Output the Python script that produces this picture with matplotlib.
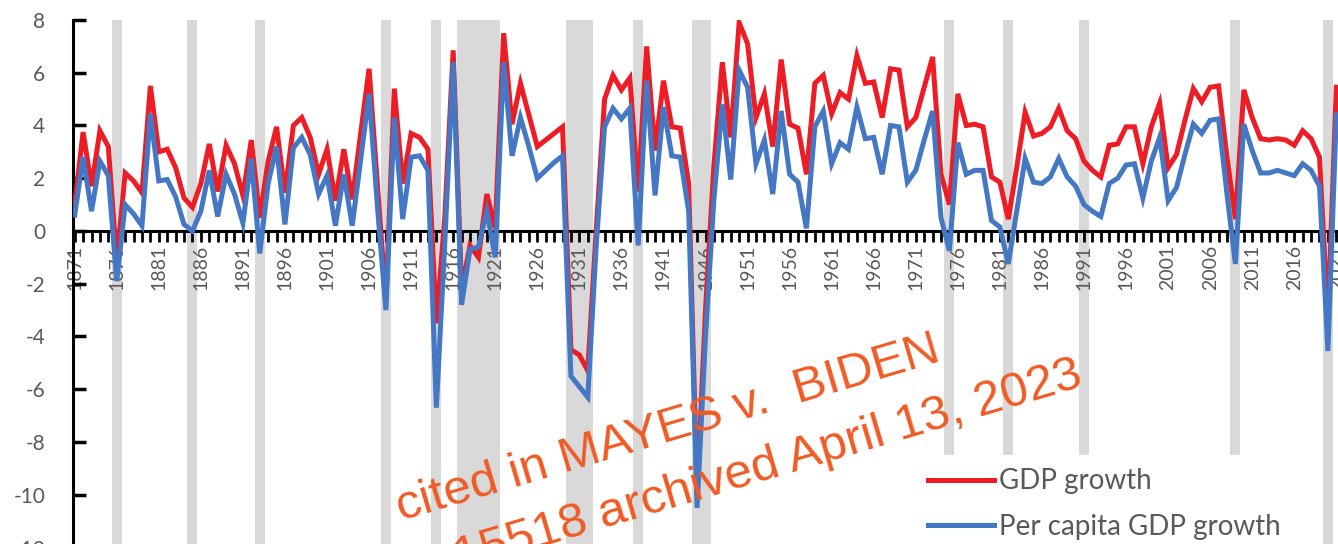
import numpy as np
import matplotlib
matplotlib.use("Agg")
import matplotlib.pyplot as plt

# Annual growth rates, %
years = np.arange(1871, 2022)
gdp_growth = [
    1.0, 3.75, 1.7, 3.8, 3.2, -1.2, 2.2, 1.9, 1.45, 5.5,          # 1871-1880
    3.0, 3.1, 2.4, 1.25, 0.9, 1.8, 3.3, 1.5, 3.25, 2.55,          # 1881-1890
    1.35, 3.45, 0.5, 2.65, 3.95, 1.45, 4.0, 4.3, 3.55, 2.15,      # 1891-1900
    3.1, 1.15, 3.1, 1.2, 3.7, 6.15, 1.7, -2.7, 5.4, 1.8,          # 1901-1910
    3.7, 3.55, 3.1, -3.5, 0.5, 6.85, -2.2, -0.55, -1.0, 1.4,      # 1911-1920
    0.1, 7.5, 4.05, 5.6, 4.4, 3.2, 3.45, 3.7, 3.95, -4.5,         # 1921-1930
    -4.7, -5.3, 0.0, 5.0, 5.9, 5.35, 5.8, 1.5, 7.0, 3.05,         # 1931-1940
    5.7, 3.95, 3.9, 1.8, -10.0, -3.0, 2.5, 6.4, 3.55, 7.9,        # 1941-1950
    7.1, 4.3, 5.2, 3.2, 6.5, 4.05, 3.9, 2.15, 5.6, 5.9,           # 1951-1960
    4.45, 5.25, 5.0, 6.65, 5.6, 5.65, 4.3, 6.15, 6.1, 3.95,       # 1961-1970
    4.3, 5.45, 6.6, 2.15, 1.0, 5.2, 4.0, 4.05, 3.95, 2.05,        # 1971-1980
    1.85, 0.45, 2.4, 4.5, 3.6, 3.7, 3.95, 4.65, 3.8, 3.5,         # 1981-1990
    2.65, 2.3, 2.05, 3.25, 3.3, 3.95, 3.95, 2.55, 3.95, 4.85,     # 1991-2000
    2.4, 2.9, 4.2, 5.4, 4.9, 5.45, 5.5, 2.8, 0.45, 5.35,          # 2001-2010
    4.3, 3.5, 3.45, 3.5, 3.45, 3.25, 3.8, 3.5, 2.8, -3.4,         # 2011-2020
    5.45,                                                         # 2021
]
per_capita_growth = [
    0.6, 2.8, 0.75, 2.65, 2.1, -1.9, 1.0, 0.65, 0.2, 4.45,
    1.9, 1.95, 1.3, 0.25, 0.0, 0.75, 2.3, 0.55, 2.15, 1.4,
    0.3, 2.75, -0.85, 1.8, 3.2, 0.25, 3.15, 3.55, 2.9, 1.4,
    2.1, 0.2, 2.15, 0.2, 2.7, 5.2, 0.9, -3.0, 4.3, 0.45,
    2.8, 2.85, 2.3, -6.7, -0.5, 6.4, -2.8, -0.7, -0.6, 0.75,
    -1.0, 6.4, 2.85, 4.3, 3.2, 2.0, 2.3, 2.6, 2.85, -5.5,
    -5.9, -6.3, -0.6, 3.95, 4.65, 4.25, 4.65, -0.55, 5.7, 1.35,
    4.7, 2.85, 2.8, 0.75, -10.5, -4.0, 1.2, 4.8, 1.95, 6.1,
    5.45, 2.55, 3.45, 1.4, 4.55, 2.15, 1.85, 0.1, 3.95, 4.55,
    2.55, 3.35, 3.1, 4.7, 3.5, 3.55, 2.15, 4.0, 3.95, 1.85,
    2.3, 3.45, 4.55, 0.5, -0.75, 3.35, 2.15, 2.3, 2.3, 0.4,
    0.15, -1.25, 0.75, 2.75, 1.85, 1.8, 2.05, 2.75, 2.05, 1.7,
    1.0, 0.75, 0.55, 1.8, 2.0, 2.5, 2.55, 1.25, 2.65, 3.55,
    1.15, 1.65, 2.9, 4.05, 3.7, 4.2, 4.25, 1.4, -1.25, 4.05,
    3.05, 2.2, 2.2, 2.3, 2.2, 2.1, 2.55, 2.3, 1.7, -4.55,
    4.4,
]
# recession years (first, last)
recessions = [(1876, 1876), (1885, 1885), (1893, 1893), (1908, 1908),
              (1914, 1914), (1917, 1921), (1930, 1932), (1938, 1938),
              (1945, 1946), (1975, 1975), (1982, 1982), (1991, 1991),
              (2009, 2009), (2020, 2020)]
label_years = list(range(1871, 2022, 5))

grey_txt = "#595959"
plt.rcParams["font.family"] = ["Lato", "DejaVu Sans"]

fig = plt.figure(figsize=(13.38, 5.44), dpi=100)
ax = fig.add_axes([73 / 1338, -3.5 / 544, 1265 / 1338, 527.5 / 544])

for start, end in recessions:
    ax.axvspan(start - 0.6, end + 0.6, color="#d9d9d9", lw=0, zorder=0)

ax.plot(years, gdp_growth, color="#ee1c25", lw=3.6, label="GDP growth",
        solid_joinstyle="miter", zorder=3)
ax.plot(years, per_capita_growth, color="#4478c4", lw=3.6,
        label="Per capita GDP growth", solid_joinstyle="miter", zorder=4)

ax.set_xlim(1870.8, 2021.2)
ax.set_ylim(-12, 8)

for side in ["top", "right"]:
    ax.spines[side].set_visible(False)
ax.spines["bottom"].set_position(("data", 0))
ax.spines["bottom"].set_linewidth(2.2)
ax.spines["left"].set_linewidth(2.2)

ax.set_yticks(range(-12, 9, 2))
ax.set_yticklabels([str(v) for v in range(-12, 9, 2)])
ax.tick_params(axis="y", direction="in", length=9, width=2.5, pad=20,
               labelsize=15, labelcolor=grey_txt)

ax.set_xticks(label_years)
ax.set_xticklabels([str(y) for y in label_years], rotation=90)
ax.set_xticks(years, minor=True)
ax.tick_params(axis="x", which="both", direction="out", length=8, width=2,
               labelsize=14, labelcolor=grey_txt, pad=2)

leg = ax.legend(loc="upper left", bbox_to_anchor=(915 / 1338, 1 - 455 / 544),
                bbox_transform=fig.transFigure, frameon=True, fancybox=False,
                edgecolor="white", framealpha=1, fontsize=20, handlelength=2.35,
                handletextpad=0.2, labelspacing=0.71, borderpad=0.48,
                borderaxespad=0)
for t in leg.get_texts():
    t.set_color(grey_txt)
leg.set_zorder(5)

# archive stamp across the plot
stamp = dict(color="#f15a24", fontsize=35.5, rotation=16.5,
             rotation_mode="anchor", family="Liberation Sans", zorder=10)
fig.text(401 / 1338, 1 - 521 / 544, "cited in MAYES v.  BIDEN",
         ha="left", va="baseline", **stamp)
fig.text(1084 / 1338, 1 - 386 / 544, "No. 22 15518 archived April 13, 2023",
         ha="right", va="baseline", **stamp)

fig.savefig("out.png", dpi=100)
